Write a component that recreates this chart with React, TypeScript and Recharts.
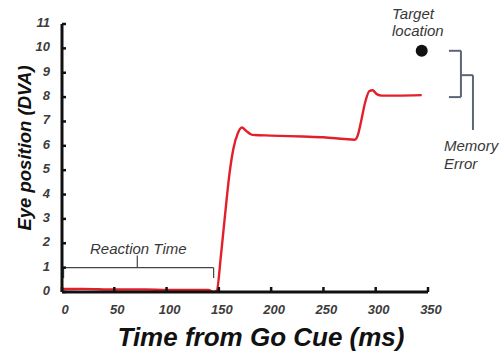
import { LineChart, Line, XAxis, YAxis, ReferenceLine, ReferenceDot } from "recharts";

// eye trace (ms, DVA)
const TIMES = [0, 20, 50, 80, 100, 120, 140, 145, 148, 152, 156, 160, 164, 168, 172, 176, 182, 200, 230, 250, 270, 280, 283, 286, 290, 294, 297, 301, 306, 320, 344];
const EYE = [0.12, 0.13, 0.1, 0.1, 0.08, 0.08, 0.08, 0.0, 0.05, 1.5, 3.2, 4.8, 5.9, 6.5, 6.75, 6.62, 6.45, 6.42, 6.38, 6.35, 6.28, 6.25, 6.45, 7.0, 7.8, 8.25, 8.28, 8.12, 8.06, 8.06, 8.08];

const X_TICKS = [0, 50, 100, 150, 200, 250, 300, 350];
const Y_TICKS = [0, 1, 2, 3, 4, 5, 6, 7, 8, 9, 10, 11];

const TARGET = { x: 344, y: 9.9 };
const RT_END = 145;
const FINAL_POS = 8.0;

const data = TIMES.map((t, i) => ({ t, eye: EYE[i] }));

const FONT = "'Liberation Sans', Arial, sans-serif";
const LABEL_COLOR = "#383838";
const BRACKET = "#5d6579";

function XTick(props: any) {
  const { x, y, payload } = props;
  return (
    <g>
      <line x1={x} x2={x} y1={y} y2={y - 5} stroke="#111" strokeWidth={2.5} />
      <text x={x + 3} y={y + 22} textAnchor="middle" fontSize={13} fontStyle="italic" fontWeight="bold" fill="#3c3c3c" fontFamily={FONT}>
        {payload.value}
      </text>
    </g>
  );
}

function YTick(props: any) {
  const { x, y, payload } = props;
  return (
    <g>
      <line x1={x} x2={x + 4} y1={y} y2={y} stroke="#111" strokeWidth={2.5} />
      <text x={x - 12} y={y + 3} textAnchor="end" fontSize={13} fontStyle="italic" fontWeight="bold" fill="#3c3c3c" fontFamily={FONT}>
        {payload.value}
      </text>
    </g>
  );
}

const seg = (x1: number, y1: number, x2: number, y2: number, color: string, w: number, key: string) => (
  <ReferenceLine
    key={key}
    segment={[{ x: x1, y: y1 }, { x: x2, y: y2 }]}
    stroke={color}
    strokeWidth={w}
    ifOverflow="visible"
  />
);

export default function App() {
  const txt = { position: "absolute" as const, fontFamily: FONT, fontStyle: "italic", color: LABEL_COLOR, fontSize: 15, lineHeight: "17px" };
  return (
    <div style={{ position: "absolute", left: 0, top: 0, width: 504, height: 353, background: "#fff" }}>
      <LineChart width={504} height={353} data={data} margin={{ top: 24, right: 76, left: 1, bottom: 0 }}>
        <XAxis
          dataKey="t"
          type="number"
          domain={[0, 350]}
          ticks={X_TICKS}
          tickSize={0}
          tickMargin={0}
          tickLine={false}
          tick={<XTick />}
          height={61}
          axisLine={{ stroke: "#111", strokeWidth: 3 }}
        />
        <YAxis
          type="number"
          domain={[0, 11]}
          ticks={Y_TICKS}
          tickSize={0}
          tickMargin={0}
          tickLine={false}
          tick={<YTick />}
          width={61}
          axisLine={{ stroke: "#111", strokeWidth: 3 }}
        />
        {/* reaction time bracket */}
        {seg(1.5, 0.57, 1.5, 1.0, "#444", 1.2, "rt1")}
        {seg(1.5, 1.0, RT_END, 1.0, "#444", 1.2, "rt2")}
        {seg(RT_END, 1.0, RT_END, 0.57, "#444", 1.2, "rt3")}
        {seg(72, 1.0, 72, 1.5, "#444", 1.2, "rt4")}
        {/* memory error bracket */}
        {seg(370, TARGET.y, 381.5, TARGET.y, BRACKET, 2, "me1")}
        {seg(381.5, TARGET.y, 381.5, FINAL_POS, BRACKET, 2, "me2")}
        {seg(370, FINAL_POS, 381.5, FINAL_POS, BRACKET, 2, "me3")}
        {seg(381.5, 8.9, 393, 8.9, BRACKET, 2, "me4")}
        {seg(393, 8.9, 393, 6.65, BRACKET, 2, "me5")}
        <Line
          dataKey="eye"
          type="monotone"
          stroke="#e3202a"
          strokeWidth={2.4}
          dot={false}
          isAnimationActive={false}
        />
        <ReferenceDot x={TARGET.x} y={TARGET.y} r={6} fill="#111" stroke="none" ifOverflow="visible" />
      </LineChart>
      <div style={{ ...txt, left: 392, top: 5 }}>
        Target
        <br />
        location
      </div>
      <div style={{ ...txt, left: 444, top: 137, lineHeight: "18px" }}>
        Memory
        <br />
        Error
      </div>
      <div style={{ ...txt, left: 90, top: 240 }}>Reaction Time</div>
      <div
        style={{
          position: "absolute",
          left: 0,
          top: 322,
          width: 522,
          textAlign: "center",
          fontFamily: FONT,
          fontStyle: "italic",
          fontWeight: "bold",
          fontSize: 26,
          color: "#111",
          lineHeight: "30px",
        }}
      >
        Time from Go Cue (ms)
      </div>
      <div
        style={{
          position: "absolute",
          left: 25,
          top: 148,
          transform: "translate(-50%, -50%) rotate(-90deg)",
          whiteSpace: "nowrap",
          fontFamily: FONT,
          fontStyle: "italic",
          fontWeight: "bold",
          fontSize: 18.5,
          color: "#111",
        }}
      >
        Eye position (DVA)
      </div>
    </div>
  );
}
